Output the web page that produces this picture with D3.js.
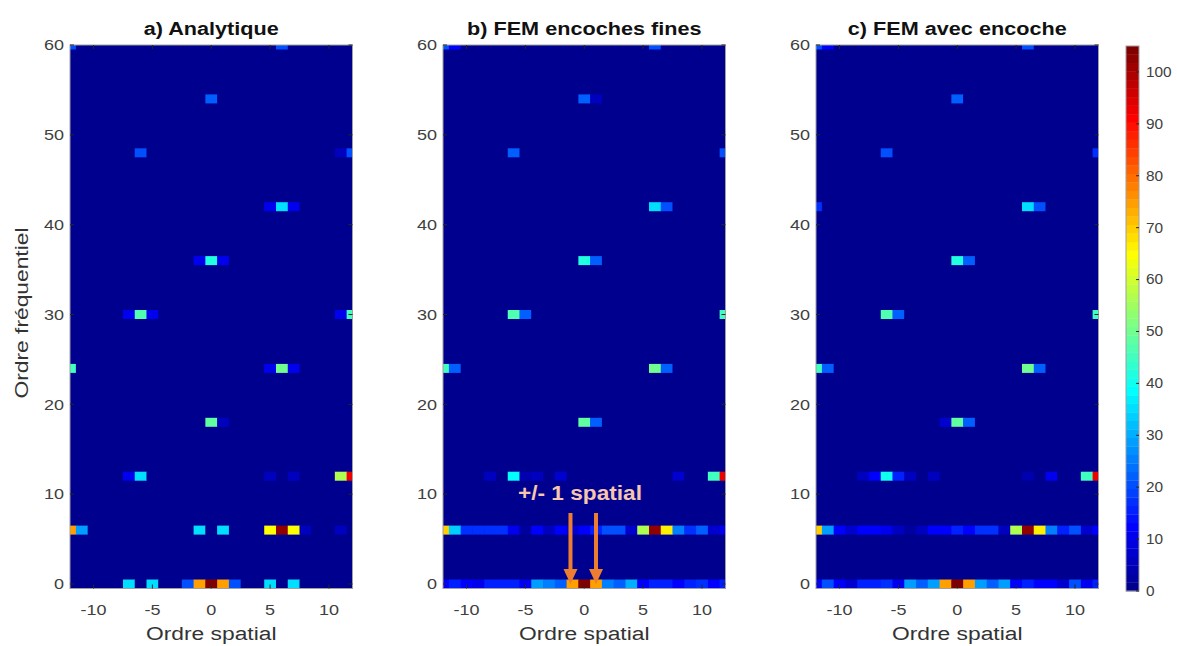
<!DOCTYPE html>
<html>
<head>
<meta charset="utf-8">
<script src="https://cdn.jsdelivr.net/npm/d3@7"></script>
<style>
  body { margin: 0; background: #fff; }
  svg { display: block; font-family: "Liberation Sans", Arial, Helvetica, sans-serif; }
</style>
</head>
<body>
<svg id="chart" width="1177" height="646"></svg>
<script>
// ---------------- DATA ----------------
const spatialOrders = [-12, -11, -10, -9, -8, -7, -6, -5, -4, -3, -2, -1, 0, 1, 2, 3, 4, 5, 6, 7, 8, 9, 10, 11, 12];
const frequencyOrders = [0, 6, 12, 18, 24, 30, 36, 42, 48, 54, 60];
const panelTitles = ["a) Analytique", "b) FEM encoches fines", "c) FEM avec encoche"];
const xTickValues = [-10, -5, 0, 5, 10];
const yTickValues = [0, 10, 20, 30, 40, 50, 60];
const colorbarTickValues = [0, 10, 20, 30, 40, 50, 60, 70, 80, 90, 100];
const colorMax = 105;
const xLabel = "Ordre spatial";
const yLabel = "Ordre fréquentiel";
const annotationText = "+/- 1 spatial";
const annotatedOrders = [-1, 1];

// rows follow frequencyOrders, columns follow spatialOrders
const analytique = [
  [0,0,0,0,0,35,0,35,0,0,20,75,105,75,20,0,0,35,0,35,0,0,0,0,0],
  [75,28,0,0,0,0,0,0,0,0,0,35,0,35,0,0,0,65,103,65,5,0,0,6,0],
  [0,0,0,0,0,10,36,0,0,0,0,0,0,0,0,0,0,6,0,6,0,0,0,57,92],
  [0,0,0,0,0,0,0,0,0,0,0,0,48,5,0,0,0,0,0,0,0,0,0,0,0],
  [45,0,0,0,0,0,0,0,0,0,0,0,0,0,0,0,0,10,50,10,0,0,0,0,0],
  [0,0,0,0,0,10,47,10,0,0,0,0,0,0,0,0,0,0,0,0,0,0,0,10,45],
  [0,0,0,0,0,0,0,0,0,0,0,10,42,10,0,0,0,0,0,0,0,0,0,0,0],
  [0,0,0,0,0,0,0,0,0,0,0,0,0,0,0,0,0,10,36,10,0,0,0,0,0],
  [0,0,0,0,0,0,20,0,0,0,0,0,0,0,0,0,0,0,0,0,0,0,0,6,20],
  [0,0,0,0,0,0,0,0,0,0,0,0,22,0,0,0,0,0,0,0,0,0,0,0,0],
  [20,0,0,0,0,0,0,0,0,0,0,0,0,0,0,0,0,0,20,0,0,0,0,0,0]
];
const femEncochesFines = [
  [12,15,12,10,15,15,15,10,28,25,22,75,105,75,25,22,30,12,15,15,12,15,18,12,15],
  [70,33,18,18,18,18,10,3,12,5,12,8,12,15,20,20,8,57,103,66,25,18,22,8,10],
  [0,0,0,0,5,0,38,4,5,0,7,0,0,0,0,0,0,0,0,0,8,0,0,45,92],
  [0,0,0,0,0,0,0,0,0,0,0,0,48,22,0,0,0,0,0,0,0,0,0,0,0],
  [45,22,0,0,0,0,0,0,0,0,0,0,0,0,0,0,0,0,50,22,0,0,0,0,0],
  [0,0,0,0,0,0,47,22,0,0,0,0,0,0,0,0,0,0,0,0,0,0,0,0,45],
  [0,0,0,0,0,0,0,0,0,0,0,0,42,22,0,0,0,0,0,0,0,0,0,0,0],
  [0,0,0,0,0,0,0,0,0,0,0,0,0,0,0,0,0,0,36,20,0,0,0,0,0],
  [0,0,0,0,0,0,22,0,0,0,0,0,0,0,0,0,0,0,0,0,0,0,0,0,20],
  [0,0,0,0,0,0,0,0,0,0,0,0,22,6,0,0,0,0,0,0,0,0,0,0,0],
  [20,12,0,0,0,0,0,0,0,0,0,0,0,0,0,0,0,0,20,0,0,0,0,0,0]
];
const femAvecEncoche = [
  [12,20,12,8,15,15,18,10,28,22,28,75,105,75,28,22,28,12,15,12,12,8,20,10,15],
  [70,28,12,8,12,12,10,5,3,6,12,12,15,12,18,18,5,57,103,66,25,15,20,8,12],
  [0,0,0,0,5,12,40,15,5,0,5,0,0,0,0,0,0,0,4,0,10,0,0,45,92],
  [0,0,0,0,0,0,0,0,0,0,0,8,48,22,0,0,0,0,0,0,0,0,0,0,0],
  [45,22,0,0,0,0,0,0,0,0,0,0,0,0,0,0,0,0,50,22,0,0,0,0,0],
  [0,0,0,0,0,0,47,22,0,0,0,0,0,0,0,0,0,0,0,0,0,0,0,0,45],
  [0,0,0,0,0,0,0,0,0,0,0,0,42,22,0,0,0,0,0,0,0,0,0,0,0],
  [18,0,0,0,0,0,0,0,0,0,0,0,0,0,0,0,0,0,35,20,0,0,0,0,0],
  [0,0,0,0,0,0,20,0,0,0,0,0,0,0,0,0,0,0,0,0,0,0,0,0,18],
  [0,0,0,0,0,0,0,0,0,0,0,0,22,0,0,0,0,0,0,0,0,0,0,0,0],
  [20,12,0,0,0,0,0,0,0,0,0,0,0,0,0,0,0,0,20,0,0,0,0,0,0]
];

// ---------------- COLOR MAP (MATLAB jet, 64 levels) ----------------
const nLevels = 64;
function jet(t) {
  const c = v => Math.max(0, Math.min(1, v));
  return d3.rgb(255 * c(1.5 - Math.abs(4 * t - 3)),
                255 * c(1.5 - Math.abs(4 * t - 2)),
                255 * c(1.5 - Math.abs(4 * t - 1))).formatHex();
}
function colorOf(v) {
  const k = Math.max(1, Math.min(nLevels, Math.floor(v / colorMax * nLevels) + 1));
  return jet(k / nLevels);
}

// ---------------- LAYOUT ----------------
const svg = d3.select("#chart");
const defs = svg.append("defs");
const panelLefts = [70, 443, 816];
const panelW = 282.5;
const plotTop = 45, plotBottom = 588.5;
const sx = 1.2;          // horizontal glyph stretch seen in the reference
const tickColor = "#262626";
const labelColor = "#404040";

function addText(parent, x, y, txt, o = {}) {
  const t = parent.append("text")
    .attr("transform", `translate(${x},${y})` + (o.rotate ? ` rotate(${o.rotate})` : "") + ` scale(${o.sx || sx},1)`)
    .attr("text-anchor", o.anchor || "middle")
    .attr("font-size", o.size || 15)
    .attr("fill", o.fill || labelColor)
    .text(txt);
  if (o.weight) t.attr("font-weight", o.weight);
  if (o.dy) t.attr("dy", o.dy);
  return t;
}

const datasets = [analytique, femEncochesFines, femAvecEncoche];
let panelBScale = null;

datasets.forEach((data, p) => {
  const x = d3.scaleLinear().domain([-12, 12]).range([panelLefts[p], panelLefts[p] + panelW]);
  const y = d3.scaleLinear().domain([-0.5, 60]).range([plotBottom, plotTop]);
  if (p === 1) panelBScale = { x, y };

  const clipId = "clip" + p;
  defs.append("clipPath").attr("id", clipId).append("rect")
    .attr("x", x.range()[0]).attr("y", plotTop)
    .attr("width", panelW).attr("height", plotBottom - plotTop);

  const g = svg.append("g");
  const cells = g.append("g").attr("clip-path", `url(#${clipId})`);
  cells.append("rect")
    .attr("x", x.range()[0]).attr("y", plotTop)
    .attr("width", panelW).attr("height", plotBottom - plotTop)
    .attr("fill", colorOf(0));

  const flat = [];
  frequencyOrders.forEach((f, i) => spatialOrders.forEach((s, j) => flat.push({ s, f, v: data[i][j] })));
  cells.selectAll("rect.cell").data(flat).join("rect")
    .attr("class", "cell")
    .attr("x", d => x(d.s - 0.5))
    .attr("width", d => x(d.s + 0.5) - x(d.s - 0.5) + 0.4)
    .attr("y", d => y(d.f + 0.5))
    .attr("height", d => y(d.f - 0.5) - y(d.f + 0.5))
    .attr("fill", d => colorOf(d.v));

  // box
  g.append("rect")
    .attr("x", x.range()[0]).attr("y", plotTop)
    .attr("width", panelW).attr("height", plotBottom - plotTop)
    .attr("fill", "none").attr("stroke", "#a0a0a0").attr("stroke-width", 1);

  // inward ticks on all four sides
  const tl = 4;
  const tg = g.append("g").attr("stroke", tickColor).attr("stroke-width", 1);
  xTickValues.forEach(v => {
    tg.append("line").attr("x1", x(v)).attr("x2", x(v)).attr("y1", plotBottom).attr("y2", plotBottom - tl);
    tg.append("line").attr("x1", x(v)).attr("x2", x(v)).attr("y1", plotTop).attr("y2", plotTop + tl);
  });
  yTickValues.forEach(v => {
    tg.append("line").attr("x1", x.range()[0]).attr("x2", x.range()[0] + tl).attr("y1", y(v)).attr("y2", y(v));
    tg.append("line").attr("x1", x.range()[1]).attr("x2", x.range()[1] - tl).attr("y1", y(v)).attr("y2", y(v));
  });

  // tick labels
  xTickValues.forEach(v => addText(g, x(v), 614.5, String(v), { size: 15 }));
  yTickValues.forEach(v => addText(g, x.range()[0] - 6, y(v), String(v), { size: 15, anchor: "end", dy: "0.35em" }));

  // axis label + title
  addText(g, (x.range()[0] + x.range()[1]) / 2, 639.5, xLabel, { size: 19, fill: "#333" });
  addText(g, (x.range()[0] + x.range()[1]) / 2, 35, panelTitles[p], { size: 18.5, weight: "bold", fill: "#111", sx: 1.17 });
  if (p === 0) addText(g, 28, 313, yLabel, { size: 19, rotate: -90, fill: "#333" });
});

// ---------------- COLORBAR ----------------
const cbX = 1126, cbW = 13, cbTop = 46, cbBottom = 591;
const cScale = d3.scaleLinear().domain([0, colorMax]).range([cbBottom, cbTop]);
const cb = svg.append("g");
const levels = d3.range(1, nLevels + 1);
cb.selectAll("rect.band").data(levels).join("rect")
  .attr("class", "band")
  .attr("x", cbX).attr("width", cbW)
  .attr("y", k => cScale(k / nLevels * colorMax))
  .attr("height", k => cScale((k - 1) / nLevels * colorMax) - cScale(k / nLevels * colorMax) + 0.3)
  .attr("fill", k => jet(k / nLevels));
cb.append("rect").attr("x", cbX).attr("y", cbTop).attr("width", cbW).attr("height", cbBottom - cbTop)
  .attr("fill", "none").attr("stroke", "#a0a0a0").attr("stroke-width", 1);
colorbarTickValues.forEach(v => {
  cb.append("line").attr("x1", cbX + cbW).attr("x2", cbX + cbW - 3).attr("y1", cScale(v)).attr("y2", cScale(v))
    .attr("stroke", tickColor);
  addText(cb, cbX + cbW + 7, cScale(v), String(v), { size: 14, anchor: "start", dy: "0.35em", sx: 1.1 });
});

// ---------------- ANNOTATION (panel b) ----------------
const ann = svg.append("g");
const arrowColor = "#ed7d31";
annotatedOrders.forEach(o => {
  const ax = panelBScale.x(o) + (o < 0 ? -2 : 0);
  ann.append("rect").attr("x", ax - 2).attr("y", 513).attr("width", 4).attr("height", 58).attr("fill", arrowColor);
  ann.append("path")
    .attr("d", `M${ax - 7},569 L${ax + 7},569 L${ax},584 Z`)
    .attr("fill", arrowColor);
});
ann.append("text")
  .attr("x", 518).attr("y", 500)
  .attr("font-size", 20).attr("font-weight", "bold")
  .attr("textLength", 124).attr("lengthAdjust", "spacingAndGlyphs")
  .attr("fill", "#f6c6ad")
  .text(annotationText);
</script>
</body>
</html>
